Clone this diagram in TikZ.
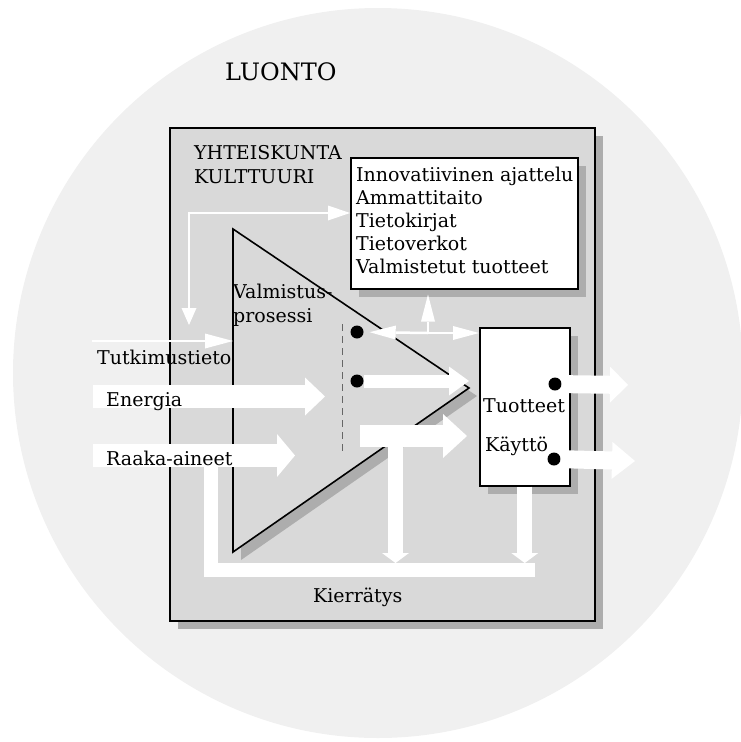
\documentclass[tikz,border=0pt]{standalone}
\usepackage{fontspec}
\setmainfont{DejaVu Serif}
\usetikzlibrary{arrows.meta,shadows}
\definecolor{natfill}{gray}{0.94}
\definecolor{socfill}{gray}{0.85}
\definecolor{shadefill}{gray}{0.68}
\begin{document}
\begin{tikzpicture}[x=1pt,y=-1pt,
  txt/.style={anchor=base west, inner sep=0pt, font=\fontsize{19}{22}\selectfont},
  bigtxt/.style={txt, font=\fontsize{24}{28}\selectfont},
  shade/.style={drop shadow={shadow xshift=8pt, shadow yshift=-8pt, fill=shadefill, opacity=1}},
  panel/.style={draw=black, fill=white, line width=1.5pt, inner sep=0pt, anchor=north west, shade},
  dot/.style={circle, fill=black, inner sep=0pt, minimum size=13pt},
  thinflow/.style={draw=white, line width=2.5pt},
  fat/.style n args={3}{draw=white, line width=#1, -{Triangle[length=#2,width=#3,line width=0pt]}}
]
\useasboundingbox (0,0) rectangle (741,742);

% nature and society
\fill[natfill] (378,373) circle[radius=365pt];
\node[draw=black, line width=2pt, fill=socfill, inner sep=0pt, anchor=north west,
      minimum width=425pt, minimum height=493pt, shade] (soc) at (169,127) {};

% production process
\draw[line width=1.6pt, fill=socfill, shade]
  (233,229) coordinate (tA) -- (233,552) coordinate (tB) -- (469,388) coordinate (tC) -- cycle;
\draw[dashed, dash pattern=on 7pt off 5pt, line width=0.8pt, black!60] (342,324) -- (342,451);

% knowledge box and products box
\node[panel, minimum width=227pt, minimum height=131pt] (know) at (350,157) {};
\node[panel, minimum width=90pt, minimum height=158pt] (prod) at (479,327) {};

% dots
\node[dot] (d1) at (357,332) {};
\node[dot] (d2) at (357,381) {};
\node[dot] (d3) at (555,384) {};
\node[dot] (d4) at (554,459) {};

% thin information flows
\coordinate (hub) at (428,333);
\draw[thinflow, -{Triangle[length=26pt,width=14pt,line width=0pt]}, shorten >=6pt] (hub) -- (d1);
\draw[thinflow, -{Triangle[length=26pt,width=14pt,line width=0pt]}] (hub) -- (hub -| prod.west);
\draw[thinflow, -{Triangle[length=27pt,width=14pt,line width=0pt]}, shorten >=5pt] (hub) -- (hub |- know.south);

\coordinate (tk) at (189,325);
\coordinate (corner) at (189,213);
\draw[thinflow, {Triangle[length=17pt,width=15pt,line width=0pt]}-{Triangle[length=22pt,width=15pt,line width=0pt]}]
  (tk) -- (corner) -- (corner -| know.west);

\coordinate (tsrc) at (92,341);
\draw[thinflow, -{Triangle[length=28pt,width=15pt,line width=0pt]}] (tsrc) -- (tsrc -| tA);

% material and energy flows
\coordinate (esrc) at (93,396.5);
\coordinate (etip) at (325,396.5);
\draw[fat={23pt}{20pt}{38pt}] (esrc) -- (etip);
\coordinate (rsrc) at (93,455.5);
\coordinate (rtip) at (295,455.5);
\draw[fat={23pt}{18pt}{43pt}] (rsrc) -- (rtip);

\draw[fat={13pt}{20pt}{29pt}] (d2) -- (d2 -| tC);

\coordinate (lsrc) at (360,436);
\coordinate (ltip) at (467,436);
\draw[fat={22pt}{24pt}{44pt}] (lsrc) -- (ltip);

% recycling loop
\coordinate (kb1) at (211,467);
\coordinate (kb2) at (211,570);
\coordinate (kb3) at (535,570);
\draw[white, line width=14.5pt] (kb1) -- (kb2) -- (kb3);
\coordinate (bar1) at (395.5,447);
\coordinate (bandtop) at (0,563);
\draw[fat={15pt}{10pt}{27pt}] (bar1) -- (bar1 |- bandtop);
\draw[fat={15pt}{10pt}{27pt}] (prod.south) -- (prod.south |- bandtop);

% outputs
\coordinate (o1) at (628,385);
\coordinate (o2) at (635,461);
\draw[fat={18pt}{18pt}{36pt}] (d3) -- (o1);
\draw[fat={18pt}{23pt}{37pt}] (d4) -- (o2);

% labels
\node[bigtxt] (luonto) at (225,80) {LUONTO};
\node[txt] (yht) at (194,159) {YHTEISKUNTA};
\node[txt] (kult) at (194,183) {KULTTUURI};
\foreach \t [count=\i] in {Innovatiivinen ajattelu, Ammattitaito, Tietokirjat, Tietoverkot, Valmistetut tuotteet}
  \node[txt] (k\i) at (356,{181+23*(\i-1)}) {\t};
\node[txt] (valm) at (233,298) {Valmistus-};
\node[txt] (pros) at (233,322) {prosessi};
\node[txt] (tutk) at (97,364) {Tutkimustieto};
\node[txt] (ener) at (106,406) {Energia};
\node[txt] (raaka) at (106,465) {Raaka-aineet};
\node[txt] (tuot) at (483,412) {Tuotteet};
\node[txt] (kaytto) at (485,451) {Käyttö};
\node[txt] (kierr) at (313,602) {Kierrätys};
\end{tikzpicture}
\end{document}
